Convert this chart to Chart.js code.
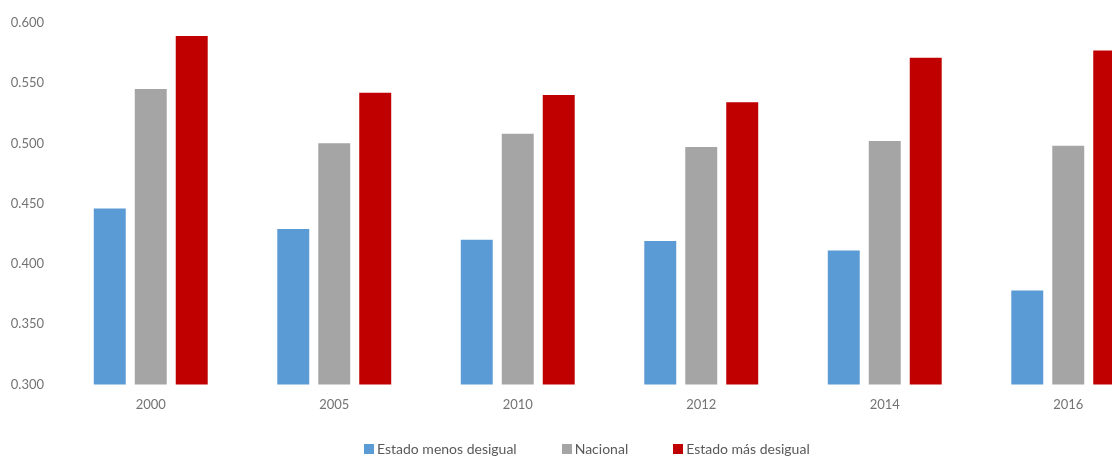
<!DOCTYPE html>
<html>
<head>
<meta charset="utf-8">
<script src="https://cdn.jsdelivr.net/npm/chart.js@4/dist/chart.umd.min.js"></script>
<style>
    body { margin: 0; overflow: hidden; background: #fff; font-family: Lato, sans-serif; }
    #wrap { position: relative; width: 1112px; height: 458px; overflow: hidden; }
    #giniChart { position: absolute; left: 0; top: 0; }
    #legend { position: absolute; left: 364px; top: 440px; display: flex; gap: 45px; font-size: 14px; color: #595959; }
    #legend span { display: flex; align-items: center; white-space: nowrap; }
    #legend i { display: inline-block; width: 10px; height: 10px; margin-right: 3px; }
</style>
</head>
<body>
<div id="wrap">
    <canvas id="giniChart" width="1165" height="458"></canvas>
    <div id="legend"></div>
</div>
<script>
const years = ['2000', '2005', '2010', '2012', '2014', '2016'];
const menosDesigual = [0.446, 0.429, 0.420, 0.419, 0.411, 0.378];
const nacional = [0.545, 0.500, 0.508, 0.497, 0.502, 0.498];
const masDesigual = [0.589, 0.542, 0.540, 0.534, 0.571, 0.577];

const seriesNames = ['Estado menos desigual', 'Nacional', 'Estado más desigual'];
const seriesColors = ['#5B9BD5', '#A5A5A5', '#C00000'];

const tickColor = '#737373';

function renderGiniChart() {
    const ctx = document.getElementById('giniChart').getContext('2d');
    new Chart(ctx, {
        type: 'bar',
        data: {
            labels: years,
            datasets: [menosDesigual, nacional, masDesigual].map((values, i) => ({
                label: seriesNames[i],
                data: values,
                backgroundColor: seriesColors[i],
                categoryPercentage: 0.67,
                barPercentage: 0.78,
            }))
        },
        options: {
            responsive: false,
            animation: false,
            layout: {
                padding: { top: 22, left: 10, right: 5, bottom: 40 }
            },
            plugins: {
                legend: { display: false },
                tooltip: { enabled: false },
            },
            scales: {
                x: {
                    grid: { display: false },
                    border: { display: false },
                    ticks: {
                        color: tickColor,
                        padding: 5,
                        font: { family: 'Lato', size: 13 },
                    },
                },
                y: {
                    min: 0.3,
                    max: 0.6,
                    grid: { display: false, drawTicks: false },
                    border: { display: false },
                    afterFit: scale => { scale.width = 49; },
                    ticks: {
                        stepSize: 0.05,
                        color: tickColor,
                        padding: 15,
                        font: { family: 'Lato', size: 13 },
                        callback: value => value.toFixed(3),
                    },
                },
            },
        }
    });
}

function renderLegend() {
    document.getElementById('legend').innerHTML = seriesNames.map((name, i) => `
        <span><i style="background:${seriesColors[i]}"></i>${name}</span>
    `).join('');
}

renderGiniChart();
renderLegend();
</script>
</body>
</html>
